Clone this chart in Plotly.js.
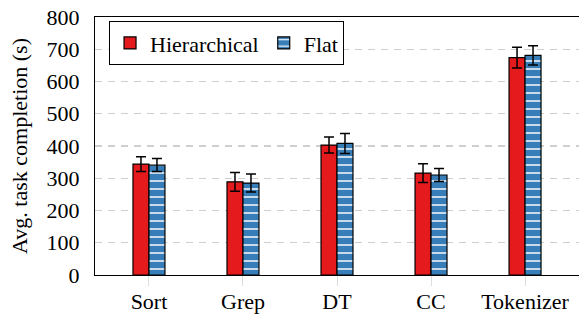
<!DOCTYPE html>
<html>
<head>
<meta charset="utf-8">
<script src="https://cdn.plot.ly/plotly-3.0.1.min.js"></script>
<style>html,body{margin:0;padding:0;overflow:hidden;background:#fff;}</style>
</head>
<body>
<div id="chart" style="width:579px;height:315px;"></div>
<script>
const categories = ["Sort", "Grep", "DT", "CC", "Tokenizer"];
const hierarchical = [344, 289, 403, 316, 674];
const hierarchicalErr = [23, 29, 25, 29, 32];
const flat = [341, 285, 408, 310, 681];
const flatErr = [20, 28, 31, 20, 30];
const yTicks = [0, 100, 200, 300, 400, 500, 600, 700, 800];

const FAMILY = "Liberation Serif";
function mkFont(size) { return {family: FAMILY, size: size, color: "#000"}; }

const traces = [
  {
    type: "bar", name: "Hierarchical", x: categories, y: hierarchical,
    error_y: {type: "data", array: hierarchicalErr, visible: true, color: "#000", thickness: 1.5, width: 5},
    marker: {color: "#E41A1C", line: {color: "#000", width: 1.2}}
  },
  {
    type: "bar", name: "Flat", x: categories, y: flat,
    error_y: {type: "data", array: flatErr, visible: true, color: "#000", thickness: 1.5, width: 5},
    marker: {color: "#377EB8", line: {color: "#000", width: 1.2},
      pattern: {shape: "-", fgcolor: "#fff", bgcolor: "#377EB8", size: 8, solidity: 0.18, fillmode: "replace"}}
  }
];

const layout = {
  width: 579, height: 315,
  margin: {l: 95, r: 0, t: 17, b: 40},
  paper_bgcolor: "#fff", plot_bgcolor: "#fff",
  font: mkFont(22),
  barmode: "group", bargap: 0.66, bargroupgap: 0,
  showlegend: true,
  legend: {
    x: 0.029, y: 0.984, xanchor: "left", yanchor: "top",
    orientation: "h", bordercolor: "#000", borderwidth: 1, bgcolor: "#fff",
    font: mkFont(22), traceorder: "normal", itemwidth: 30
  },
  xaxis: {
    type: "category", range: [-0.574, 4.574],
    showline: true, linecolor: "#000", linewidth: 1, mirror: true,
    ticks: "outside", ticklen: 10, tickcolor: "#ddd", tickwidth: 1,
    ticklabelstandoff: -3,
    showgrid: false, zeroline: false, tickfont: mkFont(22)
  },
  yaxis: {
    range: [0, 800], tickvals: yTicks, ticktext: yTicks.map(String),
    showline: true, linecolor: "#000", linewidth: 1,
    ticks: "outside", ticklen: 10, tickcolor: "rgba(0,0,0,0)",
    showgrid: true, gridcolor: "#cfcfcf", gridwidth: 1.2, griddash: "7px,6px",
    zeroline: false, tickfont: mkFont(22),
    title: {text: "Avg. task completion (s)", font: mkFont(22), standoff: 12}
  }
};

Plotly.newPlot("chart", traces, layout, {displayModeBar: false, staticPlot: true});
</script>
</body>
</html>
